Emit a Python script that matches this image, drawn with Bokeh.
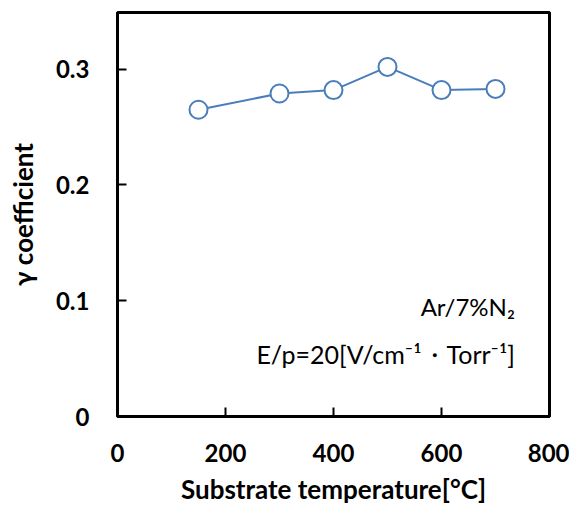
from bokeh.plotting import figure
from bokeh.models import Range1d, FixedTicker, Label, Title
from bokeh.embed import file_html
from bokeh.resources import INLINE

temperature = [150, 300, 400, 500, 600, 700]
gamma = [0.265, 0.279, 0.282, 0.302, 0.282, 0.283]
x_ticks = [0, 200, 400, 600, 800]
y_ticks = [0, 0.1, 0.2, 0.3]
y_labels = {0: "0", 0.1: "0.1", 0.2: "0.2", 0.3: "0.3"}

FONT = "Lato"
LINE_COLOR = "#4a7ebb"

p = figure(width=569, height=513, output_backend="svg", toolbar_location=None,
           x_range=Range1d(0, 800), y_range=Range1d(0, 0.349),
           min_border_left=117, min_border_right=20, min_border_top=12, min_border_bottom=97)
p.background_fill_color = "white"
p.border_fill_color = "white"
p.grid.visible = False
p.outline_line_color = "black"
p.outline_line_width = 3

for ax in (p.xaxis[0], p.yaxis[0]):
    ax.axis_line_width = 3
    ax.axis_line_color = "black"
    ax.major_tick_in = 9
    ax.major_tick_out = 0
    ax.major_tick_line_width = 2
    ax.minor_tick_line_color = None
    ax.major_label_text_font = FONT
    ax.major_label_text_font_style = "bold"
    ax.major_label_text_font_size = "24px"
    ax.major_label_text_color = "black"

p.xaxis.ticker = FixedTicker(ticks=x_ticks)
p.yaxis.ticker = FixedTicker(ticks=y_ticks)
p.yaxis.major_label_overrides = y_labels
p.xaxis.major_label_standoff = 27
p.yaxis.major_label_standoff = 28

p.yaxis.axis_label = "γ coefficient"
p.yaxis.axis_label_text_font = FONT
p.yaxis.axis_label_text_font_style = "bold"
p.yaxis.axis_label_text_font_size = "26px"
p.yaxis.axis_label_text_color = "black"
p.yaxis.axis_label_standoff = 14

xtitle = Title(text="Substrate temperature[°C]", align="center",
               text_font=FONT, text_font_style="bold", text_font_size="26px",
               text_color="black", standoff=13)
p.add_layout(xtitle, "below")

p.line(temperature, gamma, line_color=LINE_COLOR, line_width=2)
p.scatter(temperature, gamma, size=18, fill_color="white", line_color=LINE_COLOR, line_width=2)

t1 = Label(x=736, y=0.095, text="Ar/7%N₂", text_align="right", text_baseline="middle",
           text_font=FONT, text_font_size="24px", text_color="black")
t2 = Label(x=736, y=0.054, text="E/p=20[V/cm⁻¹・Torr⁻¹]", text_align="right",
           text_baseline="middle", text_font=FONT, text_font_size="25px", text_color="black")
p.add_layout(t1)
p.add_layout(t2)

open("out.html", "w").write(file_html(p, INLINE))
